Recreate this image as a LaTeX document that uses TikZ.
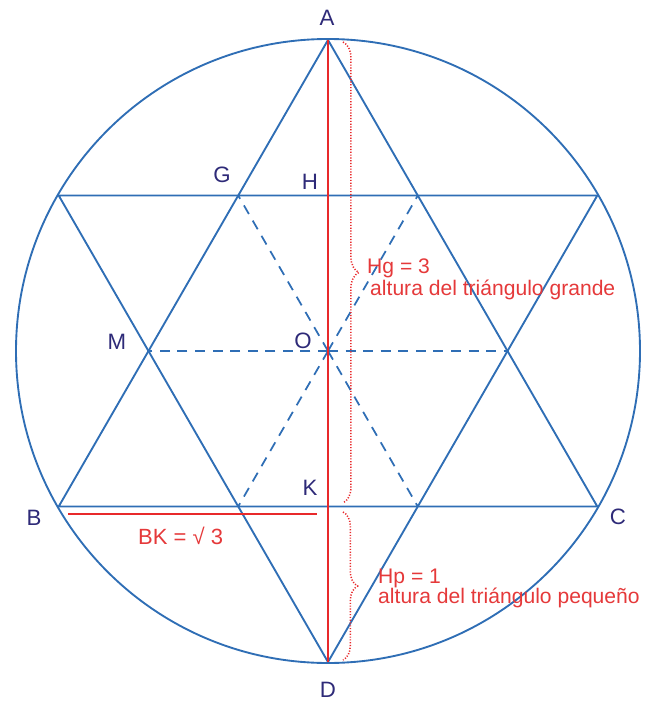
\documentclass[tikz,border=0pt]{standalone}
\usepackage{fontspec}
\setmainfont{Liberation Sans}
\usetikzlibrary{decorations.pathreplacing}
\definecolor{bluec}{HTML}{2F6EB5}
\definecolor{redc}{HTML}{E8292B}
\definecolor{labc}{HTML}{2E2A78}
\definecolor{redt}{HTML}{E5393A}
\begin{document}
\begin{tikzpicture}[x=0.03cm,y=-0.03cm,
  bl/.style={draw=bluec,line width=1.6pt},
  bldash/.style={draw=bluec,line width=1.5pt,dash pattern=on 8.5pt off 6.5pt},
  lab/.style={text=labc,inner sep=0pt,font=\fontsize{19}{22}\selectfont},
  rtxt/.style={text=redt,inner sep=0pt,anchor=base west,font=\fontsize{18}{21}\selectfont},
  rbrace/.style={draw=redc,line width=1.3pt,dash pattern=on 1pt off 1.4pt,decorate,decoration={brace,amplitude=13.5pt}}]
\useasboundingbox (0,0) rectangle (646,702);
% points
\coordinate (O) at (328,351);
\coordinate (A) at (328,40);
\coordinate (D) at (328,662);
\coordinate (B) at (58.7,506.5);
\coordinate (C) at (597.3,506.5);
\coordinate (E) at (58.7,195.5);
\coordinate (F) at (597.3,195.5);
\coordinate (G) at (238.2,195.5);
\coordinate (G2) at (417.8,195.5);
\coordinate (M) at (148.4,351);
\coordinate (M2) at (507.6,351);
\coordinate (K1) at (238.2,506.5);
\coordinate (K2) at (417.8,506.5);
\coordinate (H) at (328,195.5);
\coordinate (K) at (328,506.5);
% circle
\draw[bl] (O) circle[radius=312];
% triangles
\draw[bl] (A) -- (B) -- (C) -- cycle;
\draw[bl] (D) -- (E) -- (F) -- cycle;
% dashed
\draw[bldash] (O) -- (M);
\draw[bldash] (O) -- (M2);
\draw[bldash] (O) -- (G);
\draw[bldash] (O) -- (G2);
\draw[bldash] (O) -- (K1);
\draw[bldash] (O) -- (K2);
% red vertical
\draw[redc,line width=1.6pt] (A) -- (D);
% BK line
\coordinate (bk1) at (68,514);
\coordinate (bk2) at (317,514);
\draw[redc,line width=1.5pt] (bk1) -- (bk2);
% braces
\coordinate (br1) at (343,42);
\coordinate (br2) at (343,503);
\coordinate (br3) at (343,512);
\coordinate (br4) at (343,660);
\draw[rbrace] (br1) -- (br2);
\draw[rbrace,decoration={brace,amplitude=12.5pt}] (br3) -- (br4);
% labels
\node[lab] (lA) at (327,17.5) {A};
\node[lab] (lD) at (328,690) {D};
\node[lab] (lB) at (34,518) {B};
\node[lab] (lC) at (618,517) {C};
\node[lab] (lG) at (222,175) {G};
\node[lab] (lH) at (310,182) {H};
\node[lab] (lM) at (117,342) {M};
\node[lab] (lO) at (303,341) {O};
\node[lab] (lK) at (310,488) {K};
% red texts
\node[rtxt] (hg1) at (367,273) {Hg = 3};
\node[rtxt] (hg2) at (370,295) {altura del triángulo grande};
\node[rtxt] (hp1) at (378,583) {Hp = 1};
\node[rtxt] (hp2) at (378,603) {altura del triángulo pequeño};
\node[rtxt,font=\fontsize{18.8}{22}\selectfont] (bk) at (138,544) {BK = √ 3};
\end{tikzpicture}
\end{document}
